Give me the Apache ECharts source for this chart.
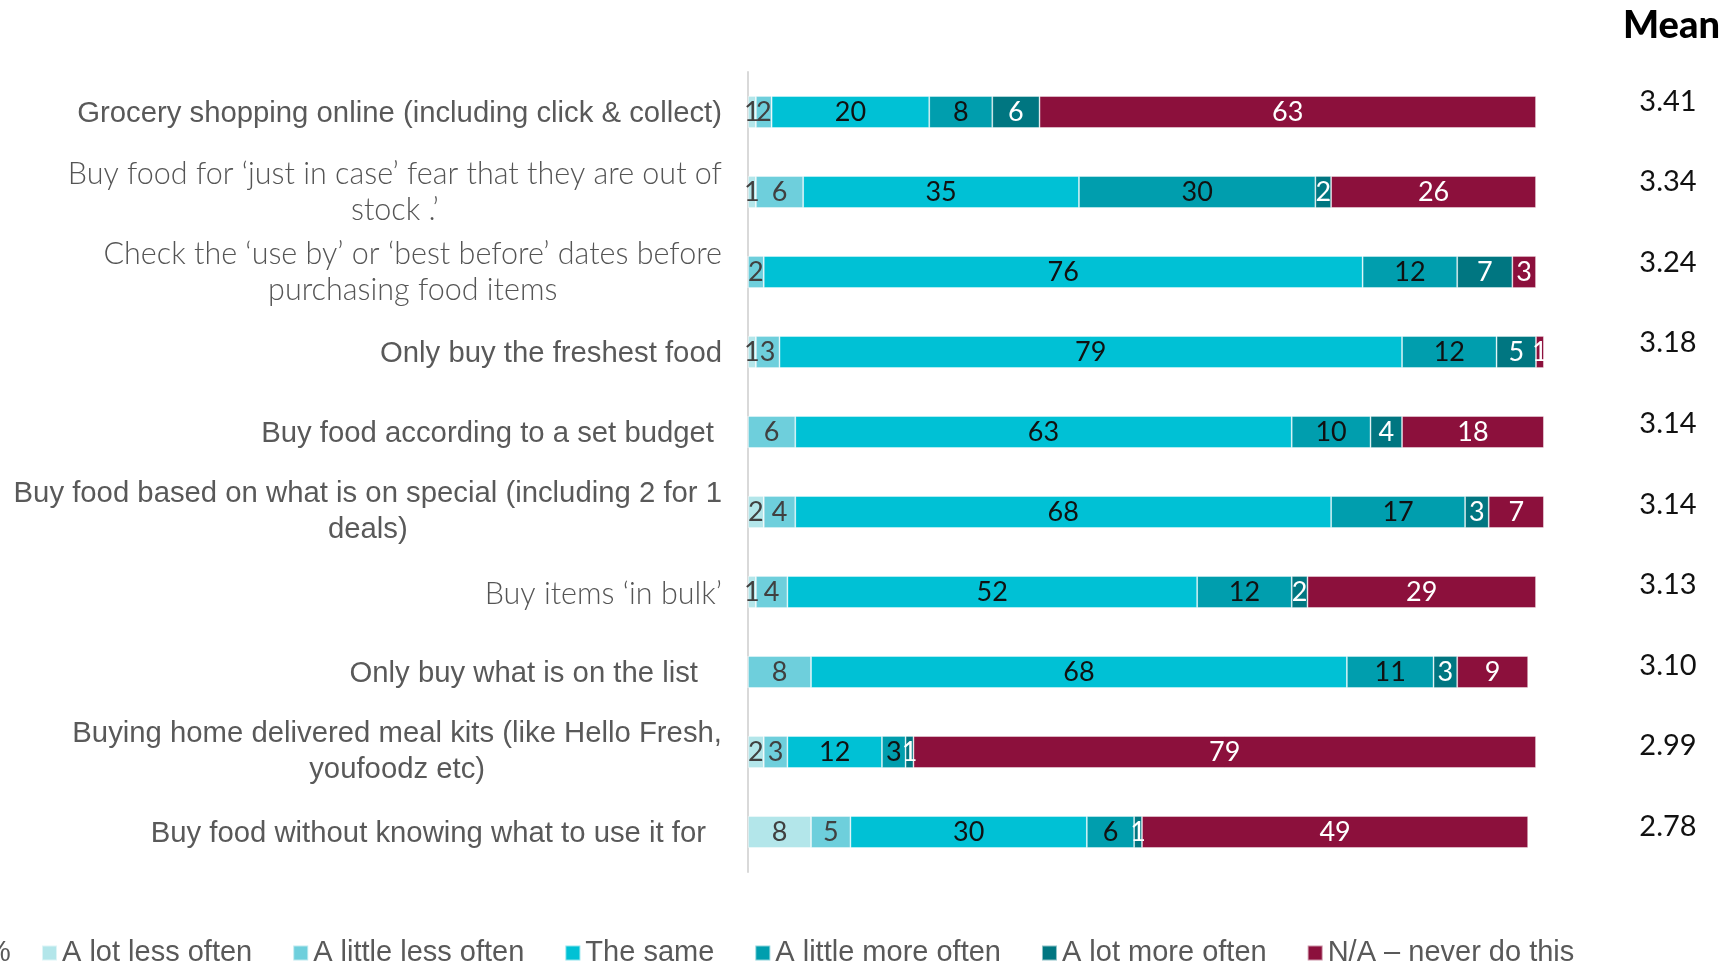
<!DOCTYPE html>
<html>
<head>
<meta charset="utf-8">
<script src="https://cdn.jsdelivr.net/npm/echarts@6/dist/echarts.min.js"></script>
<style>
  html, body { margin: 0; padding: 0; background: #ffffff; }
  #chart { width: 1721px; height: 963px; }
</style>
</head>
<body>
<div id="chart"></div>
<script>
// Shopping behaviours, % of respondents per change in frequency
const categories = [
  'Grocery shopping online (including click & collect)',
  'Buy food for ‘just in case’ fear that they are out of\nstock .’',
  'Check the ‘use by’ or ‘best before’ dates before\npurchasing food items',
  'Only buy the freshest food',
  'Buy food according to a set budget',
  'Buy food based on what is on special (including 2 for 1\ndeals)',
  'Buy items ‘in bulk’',
  'Only buy what is on the list',
  'Buying home delivered meal kits (like Hello Fresh,\nyoufoodz etc)',
  'Buy food without knowing what to use it for'
];
const seriesNames = [
  'A lot less often',
  'A little less often',
  'The same',
  'A little more often',
  'A lot more often',
  'N/A – never do this'
];
const aLotLess    = [1, 1, 0, 1, 0, 2, 1, 0, 2, 8];
const aLittleLess = [2, 6, 2, 3, 6, 4, 4, 8, 3, 5];
const theSame     = [20, 35, 76, 79, 63, 68, 52, 68, 12, 30];
const aLittleMore = [8, 30, 12, 12, 10, 17, 12, 11, 3, 6];
const aLotMore    = [6, 2, 7, 5, 4, 3, 2, 3, 1, 1];
const neverDo     = [63, 26, 3, 1, 18, 7, 29, 9, 79, 49];
const means       = ['3.41', '3.34', '3.24', '3.18', '3.14', '3.14', '3.13', '3.10', '2.99', '2.78'];

// Styling
const seriesValues = [aLotLess, aLittleLess, theSame, aLittleMore, aLotMore, neverDo];
const colors = ['#b3e6ea', '#6ecfdc', '#00c1d5', '#009eae', '#007681', '#8c103c'];
const labelColors = ['#404040', '#404040', '#111111', '#111111', '#ffffff', '#ffffff'];
const sansFace = 'Liberation Sans, Arial, sans-serif';
const bookFace = 'Lato, sans-serif';
const bookFaceRows = [1, 2, 6];               // rows set in the lighter book face
const rowRightInset = [0, 0, 0, 0, 8, 0, 0, 24, 0, 16];

const rich = {};
categories.forEach((c, i) => {
  const book = bookFaceRows.indexOf(i) >= 0;
  const singleLine = c.indexOf('\n') < 0;
  rich['r' + i] = {
    fontFamily: book ? bookFace : sansFace,
    fontWeight: book ? 300 : 'normal',
    fontSize: book ? 30.5 : 29.3,
    color: book ? '#555555' : '#595959',
    align: 'center',
    lineHeight: 36,
    padding: [singleLine ? 4 : 0, rowRightInset[i], 0, 0]
  };
});

const chart = echarts.init(document.getElementById('chart'), null, { renderer: 'canvas' });

const series = seriesNames.map((name, s) => ({
  name: name,
  type: 'bar',
  stack: 'total',
  barWidth: 32,
  clip: false,
  data: seriesValues[s],
  itemStyle: { color: colors[s], borderColor: 'rgba(255,255,255,0.55)', borderWidth: 0.8 },
  label: {
    show: true,
    position: 'inside',
    fontFamily: bookFace,
    fontSize: 27,
    color: labelColors[s],
    formatter: p => (p.value > 0 ? String(p.value) : '')
  },
  emphasis: { disabled: true },
  animation: false
}));

chart.setOption({
  animation: false,
  backgroundColor: '#ffffff',
  title: {
    text: 'Mean',
    left: 1618,
    top: 2,
    textStyle: { fontFamily: bookFace, fontWeight: 900, fontSize: 38, color: '#000000' }
  },
  legend: {
    data: seriesNames,
    left: 36,
    top: 933,
    icon: 'rect',
    itemWidth: 15,
    itemHeight: 15,
    itemGap: 40,
    textStyle: { fontFamily: sansFace, fontSize: 29, color: '#595959', lineHeight: 30 },
    selectedMode: false
  },
  grid: [
    { left: 748, top: 72, width: 788, height: 800, containLabel: false },
    // column of mean scores to the right of the bars
    { left: 1668, top: 61, width: 1, height: 806, containLabel: false }
  ],
  xAxis: [
    { type: 'value', min: 0, max: 100, show: false },
    { type: 'value', gridIndex: 1, min: 0, max: 1, show: false }
  ],
  yAxis: [
    {
      type: 'category',
      data: categories,
      inverse: true,
      axisLine: { show: true, lineStyle: { color: '#d9d9d9', width: 2 } },
      axisTick: { show: false },
      splitLine: { show: false },
      axisLabel: {
        interval: 0,
        margin: 26,
        align: 'right',
        formatter: (value, idx) => value.split('\n').map(line => '{r' + idx + '|' + line + '}').join('\n'),
        rich: rich
      }
    },
    {
      type: 'category',
      gridIndex: 1,
      data: means,
      inverse: true,
      position: 'left',
      axisLine: { show: false },
      axisTick: { show: false },
      splitLine: { show: false },
      axisLabel: {
        interval: 0,
        margin: 0,
        align: 'center',
        fontFamily: bookFace,
        fontSize: 29,
        color: '#111111'
      }
    }
  ],
  graphic: [
    {
      type: 'text',
      left: -15,
      top: 938,
      style: { text: '%', fontFamily: sansFace, fontSize: 29, fill: '#595959' }
    }
  ],
  series: series
});
</script>
</body>
</html>
